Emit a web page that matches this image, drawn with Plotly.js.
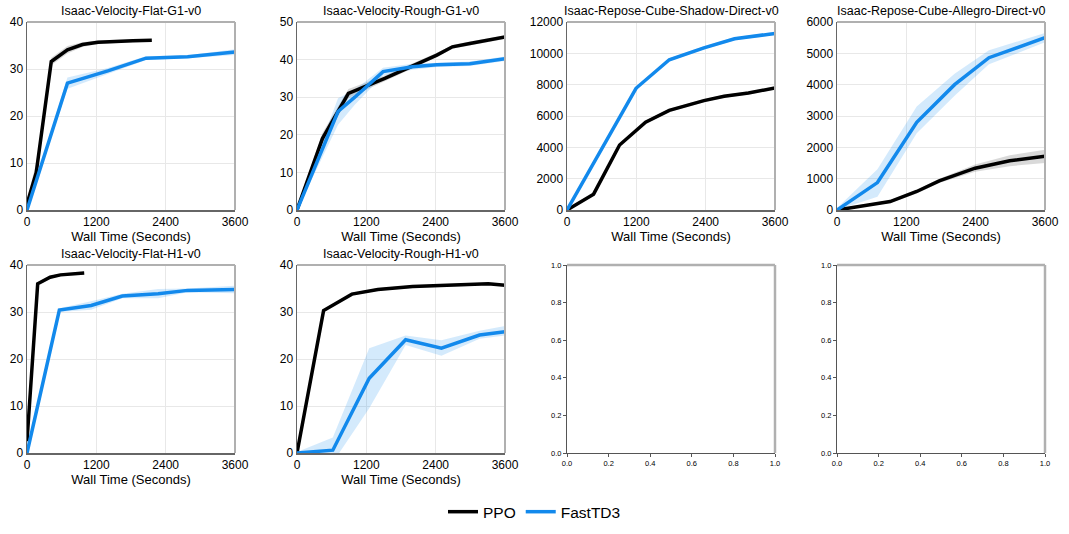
<!DOCTYPE html>
<html>
<head>
<meta charset="utf-8">
<script src="https://cdn.plot.ly/plotly-3.0.1.min.js"></script>
<style>
  html, body { margin: 0; padding: 0; background: #fff; }
  #chart { width: 1069px; height: 534px; }
</style>
</head>
<body>
<div id="chart"></div>
<script>
// ---- data (wall time in seconds, episode return) ----
const titles = [
    'Isaac-Velocity-Flat-G1-v0', 'Isaac-Velocity-Rough-G1-v0',
    'Isaac-Repose-Cube-Shadow-Direct-v0', 'Isaac-Repose-Cube-Allegro-Direct-v0',
    'Isaac-Velocity-Flat-H1-v0', 'Isaac-Velocity-Rough-H1-v0'
]
const timeTicks = [0, 1200, 2400, 3600]
const yMax = [40, 50, 12000, 6000, 40, 40]
const yStep = [10, 10, 2000, 1000, 10, 10]

// Flat G1
const flatG1PpoT = [0, 160, 420, 700, 960, 1230, 1830, 2160]
const flatG1PpoMean = [1.3, 8, 31.6, 34.1, 35.2, 35.7, 36.0, 36.1]
const flatG1PpoLo = [0.3, 6, 30.8, 33.3, 34.7, 35.3, 35.7, 35.8]
const flatG1PpoHi = [2.3, 10, 32.4, 34.9, 35.7, 36.1, 36.3, 36.4]
const flatG1FastT = [0, 700, 1400, 2060, 2780, 3600]
const flatG1FastMean = [0, 27, 29.6, 32.3, 32.6, 33.6]
const flatG1FastLo = [0, 25.8, 29.0, 31.9, 32.3, 33.0]
const flatG1FastHi = [0.3, 28.2, 30.2, 32.7, 32.9, 34.2]

// Rough G1
const roughG1PpoT = [0, 440, 890, 1520, 2420, 2690, 2990, 3600]
const roughG1PpoMean = [0, 19, 31, 35, 41.2, 43.4, 44.3, 46]
const roughG1PpoLo = [0, 17.5, 29.8, 34.2, 40.6, 42.9, 43.8, 45.5]
const roughG1PpoHi = [0.5, 20.5, 32.2, 35.8, 41.8, 43.9, 44.8, 46.5]
const roughG1FastT = [0, 710, 1000, 1490, 2000, 2420, 2990, 3600]
const roughG1FastMean = [0, 26.2, 30, 36.8, 38.1, 38.6, 38.9, 40.2]
const roughG1FastLo = [0, 22.7, 28, 35.8, 37.3, 38.0, 38.3, 39.6]
const roughG1FastHi = [0.5, 29.7, 32, 37.8, 38.9, 39.2, 39.5, 40.8]

// Shadow
const shadowPpoT = [0, 460, 910, 1360, 1770, 2370, 2720, 3140, 3600]
const shadowPpoMean = [0, 1010, 4150, 5600, 6360, 6980, 7260, 7470, 7790]
const shadowPpoLo = [0, 920, 4050, 5500, 6260, 6880, 7160, 7370, 7690]
const shadowPpoHi = [60, 1100, 4250, 5700, 6460, 7080, 7360, 7570, 7890]
const shadowFastT = [0, 1195, 1770, 2370, 2900, 3600]
const shadowFastMean = [0, 7770, 9590, 10350, 10930, 11270]
const shadowFastLo = [0, 7670, 9490, 10250, 10830, 11170]
const shadowFastHi = [60, 7870, 9690, 10450, 11030, 11370]

// Allegro
const allegroPpoT = [0, 920, 1380, 1770, 2390, 2990, 3600]
const allegroPpoMean = [0, 270, 590, 930, 1335, 1570, 1720]
const allegroPpoLo = [0, 220, 530, 860, 1220, 1400, 1500]
const allegroPpoHi = [40, 320, 650, 1000, 1450, 1750, 1920]
const allegroFastT = [0, 700, 1380, 2035, 2630, 3600]
const allegroFastMean = [0, 875, 2800, 4000, 4860, 5500]
const allegroFastLo = [0, 420, 2450, 3650, 4650, 5350]
const allegroFastHi = [60, 1300, 3300, 4350, 5100, 5650]

// Flat H1
const flatH1PpoT = [0, 185, 400, 580, 990]
const flatH1PpoMean = [2.5, 36, 37.4, 37.9, 38.3]
const flatH1PpoLo = [1.5, 35.6, 37.1, 37.6, 38.0]
const flatH1PpoHi = [3.5, 36.4, 37.7, 38.2, 38.6]
const flatH1FastT = [0, 560, 1110, 1650, 2270, 2780, 3600]
const flatH1FastMean = [0, 30.4, 31.4, 33.4, 33.9, 34.6, 34.8]
const flatH1FastLo = [0, 30.0, 30.5, 32.9, 32.9, 34.2, 34.0]
const flatH1FastHi = [0.2, 30.8, 32.3, 33.9, 34.9, 35.0, 35.6]

// Rough H1
const roughH1PpoT = [0, 460, 950, 1400, 2000, 2600, 3310, 3600]
const roughH1PpoMean = [0, 30.3, 33.8, 34.8, 35.4, 35.7, 36.0, 35.7]
const roughH1PpoLo = [0, 30.0, 33.5, 34.5, 35.1, 35.4, 35.7, 35.4]
const roughH1PpoHi = [0.2, 30.6, 34.1, 35.1, 35.7, 36.0, 36.3, 36.0]
const roughH1FastT = [0, 620, 1250, 1880, 2500, 3160, 3600]
const roughH1FastMean = [0, 0.6, 15.9, 24.1, 22.3, 25.1, 25.8]
const roughH1FastLo = [0, -2, 9.5, 23, 20.7, 24.3, 25]
const roughH1FastHi = [0.2, 3.3, 22.3, 25, 24, 26, 27]

const ppoRuns = [
    [flatG1PpoT, flatG1PpoMean, flatG1PpoLo, flatG1PpoHi],
    [roughG1PpoT, roughG1PpoMean, roughG1PpoLo, roughG1PpoHi],
    [shadowPpoT, shadowPpoMean, shadowPpoLo, shadowPpoHi],
    [allegroPpoT, allegroPpoMean, allegroPpoLo, allegroPpoHi],
    [flatH1PpoT, flatH1PpoMean, flatH1PpoLo, flatH1PpoHi],
    [roughH1PpoT, roughH1PpoMean, roughH1PpoLo, roughH1PpoHi]
]
const fastRuns = [
    [flatG1FastT, flatG1FastMean, flatG1FastLo, flatG1FastHi],
    [roughG1FastT, roughG1FastMean, roughG1FastLo, roughG1FastHi],
    [shadowFastT, shadowFastMean, shadowFastLo, shadowFastHi],
    [allegroFastT, allegroFastMean, allegroFastLo, allegroFastHi],
    [flatH1FastT, flatH1FastMean, flatH1FastLo, flatH1FastHi],
    [roughH1FastT, roughH1FastMean, roughH1FastLo, roughH1FastHi]
]

const W = 1069, H = 534
const colLeft = [27, 297, 567, 837]
const plotW = 208
const rowTop = [22, 265]
const plotH = 188

const PPO_COLOR = '#000000'
const FAST_COLOR = '#1289ec'
const font = 'Liberation Sans, Arial, sans-serif'

function band(t, lo, hi, color, xa, ya) {
    return {
        x: t.concat(t.slice().reverse()),
        y: hi.concat(lo.slice().reverse()),
        xaxis: xa, yaxis: ya,
        type: 'scatter', mode: 'lines', fill: 'toself',
        fillcolor: color, line: { width: 0 },
        showlegend: false, hoverinfo: 'skip'
    }
}

const traces = []
const layout = {
    width: W, height: H,
    margin: { l: 0, r: 0, t: 0, b: 0 },
    paper_bgcolor: '#fff', plot_bgcolor: '#fff',
    font: { family: font, color: '#000', size: 12 },
    showlegend: true,
    legend: {
        orientation: 'h', x: 0.5, xanchor: 'center', y: 0.041, yanchor: 'middle',
        font: { size: 15.5 }, itemwidth: 30
    },
    annotations: [],
    shapes: []
}

for (let i = 0; i < 8; i++) {
    const row = Math.floor(i / 4), col = i % 4
    const n = i + 1
    const xa = 'x' + (n === 1 ? '' : n), ya = 'y' + (n === 1 ? '' : n)
    const xKey = 'xaxis' + (n === 1 ? '' : n), yKey = 'yaxis' + (n === 1 ? '' : n)
    const x0 = colLeft[col] / W, x1 = (colLeft[col] + plotW) / W
    const y1 = 1 - rowTop[row] / H, y0 = 1 - (rowTop[row] + plotH) / H
    const hasData = i < 6

    if (hasData) {
        const [pt, pm, pl, ph] = ppoRuns[i]
        const [ft, fm, fl, fh] = fastRuns[i]
        traces.push(band(pt, pl, ph, 'rgba(0,0,0,0.15)', xa, ya))
        traces.push(band(ft, fl, fh, 'rgba(18,137,236,0.18)', xa, ya))
        traces.push({
            x: pt, y: pm, xaxis: xa, yaxis: ya, type: 'scatter', mode: 'lines',
            name: 'PPO', legendgroup: 'ppo', showlegend: i === 0,
            line: { color: PPO_COLOR, width: 3.5 }
        })
        traces.push({
            x: ft, y: fm, xaxis: xa, yaxis: ya, type: 'scatter', mode: 'lines',
            name: 'FastTD3', legendgroup: 'fast', showlegend: i === 0,
            line: { color: FAST_COLOR, width: 3.5 }
        })
        layout[xKey] = {
            domain: [x0, x1], anchor: ya, range: [0, 3600],
            tickvals: timeTicks, ticks: '', showgrid: true, gridcolor: '#e8e8e8', gridwidth: 1,
            zeroline: false, showline: true, linecolor: '#666', linewidth: 1.5,
            tickfont: { size: 12 },
            title: { text: 'Wall Time (Seconds)', font: { size: 13 }, standoff: 2 },
            fixedrange: true
        }
        layout[yKey] = {
            domain: [y0, y1], anchor: xa, range: [0, yMax[i]], dtick: yStep[i],
            tickformat: 'd',
            ticks: '', showgrid: true, gridcolor: '#e8e8e8', gridwidth: 1,
            zeroline: false, showline: true, linecolor: '#666', linewidth: 1.5,
            tickfont: { size: 12 }, fixedrange: true
        }
        layout.annotations.push({
            text: titles[i], xref: 'paper', yref: 'paper',
            x: (x0 + x1) / 2, y: y1, xanchor: 'center', yanchor: 'bottom', yshift: 2,
            showarrow: false, font: { size: 12.5 }
        })
    } else {
        // empty axes, default 0..1 frame
        traces.push({ x: [], y: [], xaxis: xa, yaxis: ya, type: 'scatter', showlegend: false })
        layout[xKey] = {
            domain: [x0, x1], anchor: ya, range: [0, 1], dtick: 0.2, tickformat: '.1f',
            ticks: 'outside', ticklen: 3, tickcolor: '#555', showgrid: false, zeroline: false,
            showline: true, linecolor: '#555', linewidth: 1, tickfont: { size: 7.5 }, fixedrange: true
        }
        layout[yKey] = {
            domain: [y0, y1], anchor: xa, range: [0, 1], dtick: 0.2, tickformat: '.1f',
            ticks: 'outside', ticklen: 3, tickcolor: '#555', showgrid: false, zeroline: false,
            showline: true, linecolor: '#555', linewidth: 1, tickfont: { size: 7.5 }, fixedrange: true
        }
    }

    // lighter top and right spines
    const spine = { color: '#b0b0b0', width: hasData ? 2 : 2.5 }
    layout.shapes.push({
        type: 'line', xref: 'paper', yref: 'paper',
        x0: x0, x1: x1, y0: y1, y1: y1, line: spine
    })
    layout.shapes.push({
        type: 'line', xref: 'paper', yref: 'paper',
        x0: x1, x1: x1, y0: y0, y1: y1, line: spine
    })
}

Plotly.newPlot('chart', traces, layout, { displayModeBar: false, staticPlot: true })
</script>
</body>
</html>
